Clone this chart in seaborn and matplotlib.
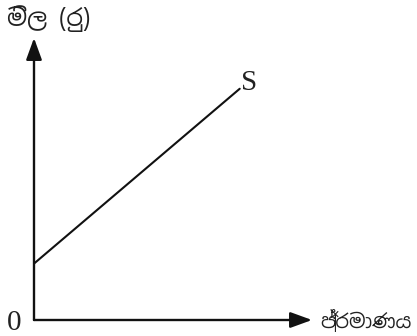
import matplotlib
matplotlib.use("Agg")
import matplotlib.pyplot as plt
import seaborn as sns
import pandas as pd

# supply curve S (price against quantity)
quantity = [0.0, 7.4]
price = [2.0, 8.2]
curve_label = "S"
y_label = "මිල (රු)"
x_label = "ප්‍රමාණය"
origin_label = "0"

SINHALA = ["Noto Sans Sinhala", "Noto Serif Sinhala", "DejaVu Sans"]


def main() -> None:
    sns.set_theme(style="white")
    plt.rcParams["font.family"] = ["Liberation Serif", "DejaVu Serif", "DejaVu Sans"]

    fig = plt.figure(figsize=(4.17, 3.36), dpi=100)
    ax = fig.add_axes([34 / 417, 16 / 336, 278 / 417, 282 / 336])
    ax.set_xlim(0, 10)
    ax.set_ylim(0, 10)
    ax.axis("off")

    df = pd.DataFrame({"quantity": quantity, "price": price})
    sns.lineplot(data=df, x="quantity", y="price", color="#111111", linewidth=1.5, ax=ax)

    arrow = dict(arrowstyle="-|>,head_length=1.1,head_width=0.4", color="#111111",
                 linewidth=1.7, shrinkA=0, shrinkB=0)
    ax.annotate("", xy=(1, 0), xytext=(0, 0), xycoords="axes fraction", arrowprops=arrow)
    ax.annotate("", xy=(0, 1), xytext=(0, 0), xycoords="axes fraction", arrowprops=arrow)

    ax.text(quantity[-1] + 0.05, price[-1] + 0.2, curve_label, fontsize=21,
            ha="left", va="center", color="#222222")
    ax.text(-0.072, -0.012, origin_label, transform=ax.transAxes, fontsize=21,
            ha="center", va="center", color="#222222")
    fig.text(7 / 417, 1 - 19 / 336, y_label, fontsize=17, ha="left", va="center",
             family=SINHALA, color="#222222")
    fig.text(412 / 417, 1 - 322 / 336, x_label, fontsize=14, ha="right", va="center",
             family=SINHALA, color="#222222")

    fig.savefig("out.png", dpi=100)
    plt.close(fig)


if __name__ == "__main__":
    main()
